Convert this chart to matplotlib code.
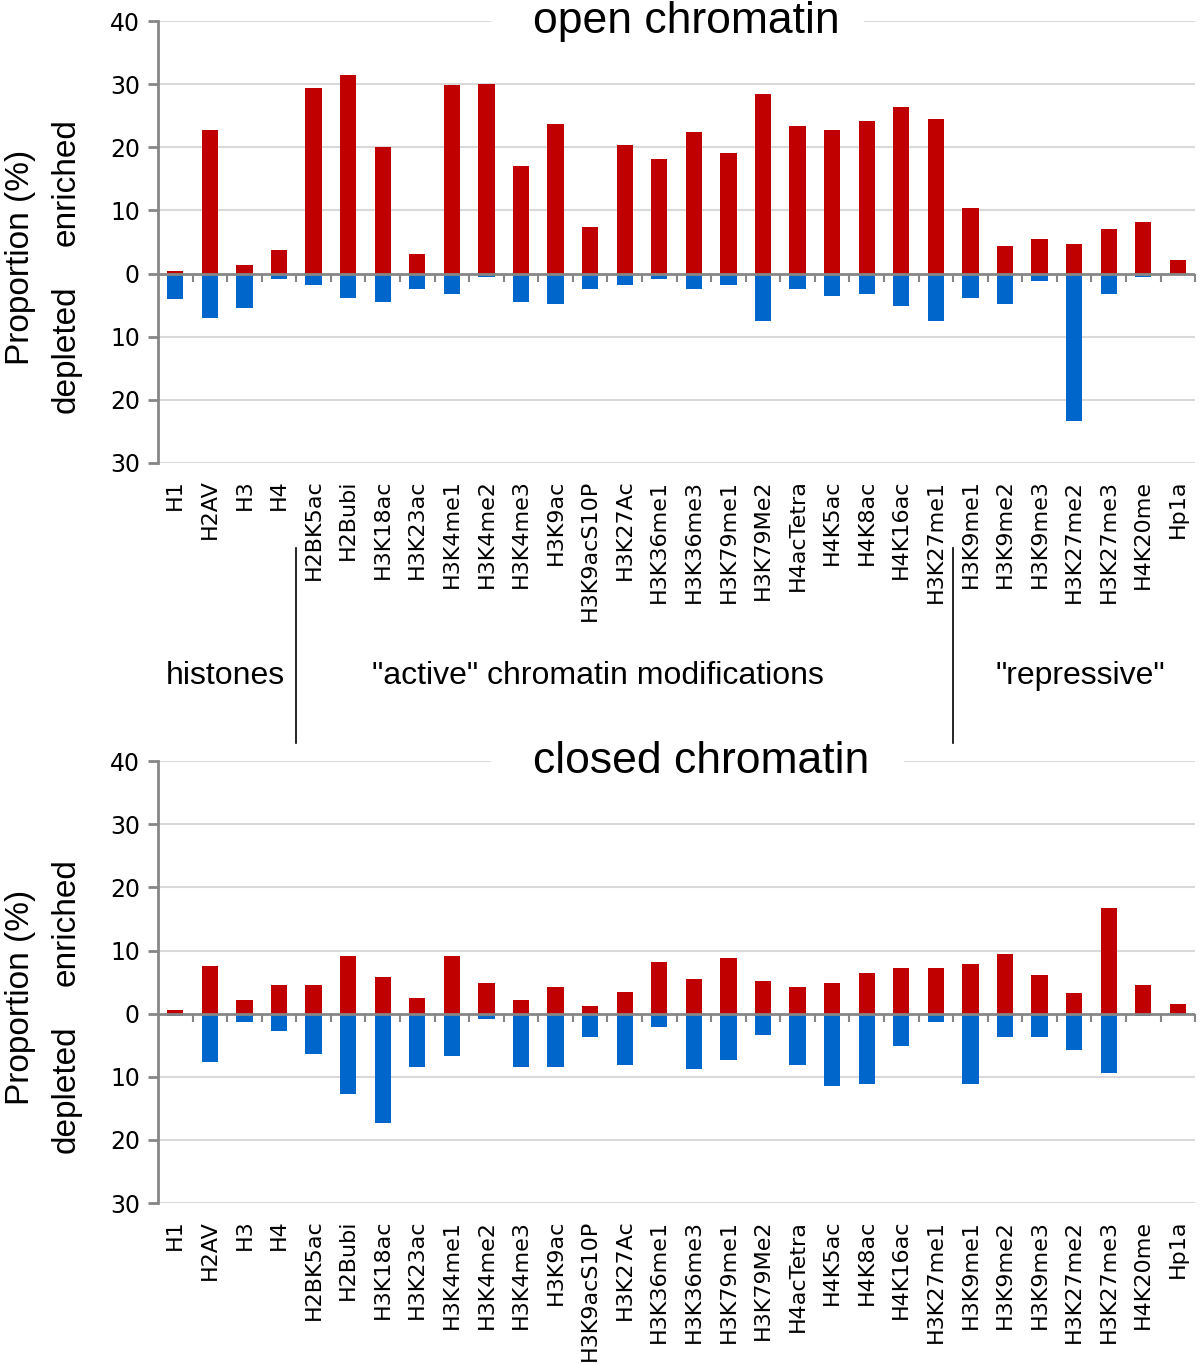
import matplotlib.pyplot as plt
import numpy as np
from matplotlib.transforms import blended_transform_factory

marks = ['H1', 'H2AV', 'H3', 'H4', 'H2BK5ac', 'H2Bubi', 'H3K18ac', 'H3K23ac',
         'H3K4me1', 'H3K4me2', 'H3K4me3', 'H3K9ac', 'H3K9acS10P', 'H3K27Ac',
         'H3K36me1', 'H3K36me3', 'H3K79me1', 'H3K79Me2', 'H4acTetra', 'H4K5ac',
         'H4K8ac', 'H4K16ac', 'H3K27me1', 'H3K9me1', 'H3K9me2', 'H3K9me3',
         'H3K27me2', 'H3K27me3', 'H4K20me', 'Hp1a']

# open chromatin, % enriched / % depleted
open_enriched = [0.4, 22.7, 1.4, 3.8, 29.4, 31.4, 20.1, 3.1, 29.8, 30.1, 17.1,
                 23.7, 7.4, 20.4, 18.1, 22.4, 19.1, 28.4, 23.4, 22.7, 24.1,
                 26.4, 24.4, 10.4, 4.4, 5.4, 4.7, 7.1, 8.1, 2.1]
open_depleted = [4.1, 7.1, 5.5, 0.8, 1.8, 3.8, 4.5, 2.5, 3.2, 0.5, 4.5, 4.8,
                 2.5, 1.8, 0.8, 2.5, 1.8, 7.5, 2.5, 3.5, 3.2, 5.1, 7.5, 3.8,
                 4.8, 1.2, 23.4, 3.2, 0.5, 0.0]

# closed chromatin
closed_enriched = [0.5, 7.5, 2.1, 4.5, 4.5, 9.1, 5.8, 2.5, 9.1, 4.8, 2.1, 4.2,
                   1.2, 3.5, 8.2, 5.5, 8.8, 5.2, 4.2, 4.8, 6.5, 7.2, 7.2, 7.8,
                   9.5, 6.2, 3.2, 16.8, 4.5, 1.5]
closed_depleted = [0.4, 7.7, 1.4, 2.8, 6.4, 12.7, 17.4, 8.4, 6.7, 0.8, 8.4, 8.4,
                   3.7, 8.1, 2.1, 8.8, 7.4, 3.4, 8.1, 11.4, 11.1, 5.1, 1.4, 11.1,
                   3.7, 3.7, 5.7, 9.4, 0.4, 0.0]

yticks = [-30, -20, -10, 0, 10, 20, 30, 40]
groups = ['histones', '"active" chromatin modifications', '"repressive"']

red = '#C00000'
blue = '#0066CC'
grey = '#868686'
sans = ['Liberation Sans', 'DejaVu Sans']

fig = plt.figure(figsize=(12, 13.64), dpi=100)
ax_top = fig.add_axes([0.1317, 0.6606, 0.8642, 0.324])
ax_bot = fig.add_axes([0.1317, 0.1180, 0.8642, 0.324])

x = np.arange(len(marks))


def panel(ax, enriched, depleted, title, gap_right):
    ax.set_xlim(-0.5, len(marks) - 0.5)
    ax.set_ylim(-30, 40)
    for v in yticks:
        if v == 40:
            ax.axhline(v, 0, 0.320, color='#D9D9D9', lw=1.5, zorder=0)
            ax.axhline(v, gap_right, 1, color='#D9D9D9', lw=1.5, zorder=0)
        elif v != 0:
            ax.axhline(v, color='#D9D9D9', lw=1.5, zorder=0)
    ax.bar(x, enriched, width=0.47, color=red, zorder=2)
    ax.bar(x, -np.array(depleted), width=0.47, color=blue, zorder=2)
    ax.axhline(0, color=grey, lw=2, zorder=3)
    ax.vlines(np.arange(0.5, len(marks)), -1.4, 0, color=grey, lw=1.5, zorder=3)
    ax.vlines(len(marks) - 0.5, -1.4, 0, color=grey, lw=1.5, zorder=3,
              clip_on=False)

    for s in ['top', 'right', 'bottom']:
        ax.spines[s].set_visible(False)
    ax.spines['left'].set_color(grey)
    ax.spines['left'].set_linewidth(2)
    ax.set_yticks(yticks, [str(abs(v)) for v in yticks], fontsize=17,
                  family='DejaVu Sans')
    ax.tick_params(axis='y', length=7, width=2, color=grey, pad=6)
    ax.set_xticks(x, marks, rotation=90, fontsize=16, family='DejaVu Sans')
    ax.tick_params(axis='x', length=0, pad=12)

    ax.text(0.362, 40, title, transform=ax.get_yaxis_transform(), ha='left',
            va='center', fontsize=32, family=sans, clip_on=False)

    tr = ax.get_yaxis_transform()
    ax.text(-0.133, 2.5, 'Proportion (%)', transform=tr, rotation=90,
            ha='center', va='center', fontsize=24, family=sans)
    ax.text(-0.089, -12, 'depleted', transform=tr, rotation=90,
            ha='center', va='center', fontsize=24, family=sans)
    ax.text(-0.089, 14.5, 'enriched', transform=tr, rotation=90,
            ha='center', va='center', fontsize=24, family=sans)


panel(ax_top, open_enriched, open_depleted, 'open chromatin', 0.682)
panel(ax_bot, closed_enriched, closed_depleted, 'closed chromatin', 0.720)

# group separators between the panels
btr = blended_transform_factory(ax_top.transData, fig.transFigure)
for bx in [3.5, 22.5]:
    fig.add_artist(plt.Line2D([bx, bx], [1 - 548 / 1364, 1 - 743 / 1364],
                              transform=btr, color='black', lw=1.2))

label_y = 1 - 676 / 1364
fig.text(225 / 1200, label_y, groups[0], ha='center', va='center',
         fontsize=23, family=sans)
fig.text(598 / 1200, label_y, groups[1], ha='center', va='center',
         fontsize=23, family=sans)
fig.text(1080 / 1200, label_y, groups[2], ha='center', va='center',
         fontsize=23, family=sans)

fig.savefig('out.png', dpi=100)
